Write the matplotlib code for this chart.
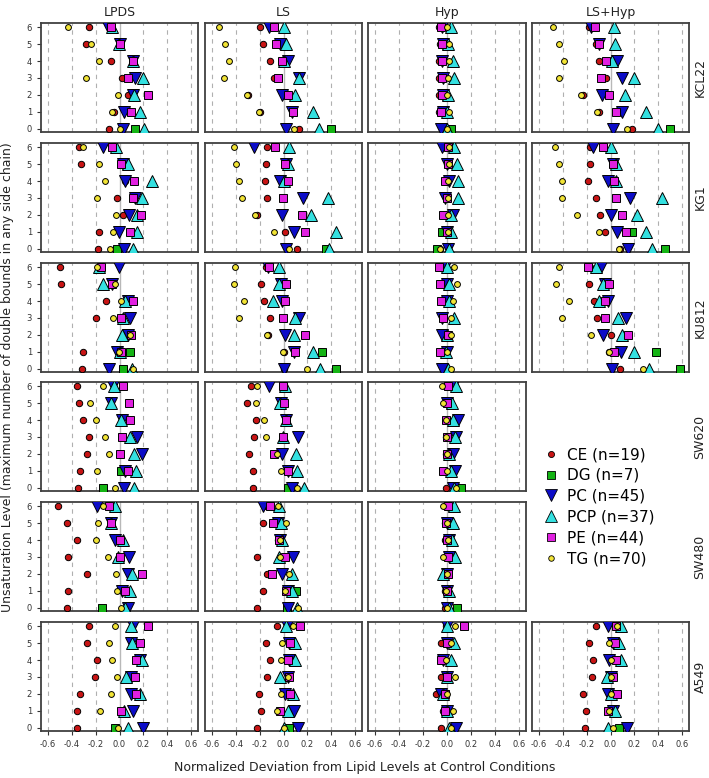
import numpy as np
import matplotlib
matplotlib.use("Agg")
import matplotlib.pyplot as plt
from matplotlib.lines import Line2D

nan = np.nan

conditions = ["LPDS", "LS", "Hyp", "LS+Hyp"]
cell_lines = ["KCL22", "KG1", "KU812", "SW620", "SW480", "A549"]
classes = ["CE", "DG", "PC", "PCP", "PE", "TG"]
class_n = [19, 7, 45, 37, 44, 70]
levels = [0, 1, 2, 3, 4, 5, 6]
x_ticks = [-0.6, -0.4, -0.2, 0.0, 0.2, 0.4, 0.6]

# values per class: one list per condition (LPDS, LS, Hyp, LS+Hyp), levels 0..6
KCL22 = {
    "CE": [[-0.09, -0.05, 0.07, 0.02, -0.07, -0.28, -0.26],
           [0.13, -0.2, -0.3, -0.08, -0.11, -0.17, -0.2],
           [-0.04, -0.07, -0.07, -0.07, -0.065, -0.06, -0.07],
           [0.18, -0.1, -0.23, -0.04, -0.1, -0.12, -0.18]],
    "DG": [[0.13, nan, nan, nan, nan, nan, nan],
           [0.4, nan, nan, nan, nan, nan, nan],
           [0.03, nan, nan, nan, nan, nan, nan],
           [0.5, nan, nan, nan, nan, nan, nan]],
    "PC": [[0.03, 0.035, 0.11, 0.13, 0.11, 0.0, -0.1],
           [0.02, 0.07, -0.01, 0.13, 0.04, -0.03, -0.12],
           [-0.05, -0.03, -0.03, -0.03, -0.04, -0.03, -0.04],
           [0.025, 0.1, -0.07, 0.1, 0.055, -0.1, -0.165]],
    "PCP": [[0.21, 0.17, 0.12, 0.2, 0.11, -0.005, -0.06],
            [0.3, 0.25, 0.1, 0.13, 0.0, 0.02, 0.0],
            [0.0, 0.0, 0.01, 0.055, 0.05, 0.01, 0.03],
            [0.4, 0.3, 0.12, 0.2, 0.015, 0.04, 0.03]],
    "PE": [[nan, 0.1, 0.24, 0.07, 0.11, 0.0, -0.07],
           [nan, 0.08, 0.035, -0.05, -0.01, -0.06, -0.08],
           [nan, -0.05, -0.045, -0.04, -0.04, -0.045, -0.05],
           [nan, 0.05, -0.01, -0.08, -0.04, -0.1, -0.13]],
    "TG": [[0.005, -0.065, -0.01, -0.28, -0.17, -0.24, -0.43],
           [0.085, -0.21, -0.31, -0.5, -0.46, -0.49, -0.54],
           [0.0, 0.02, 0.0, 0.01, 0.02, 0.02, 0.0],
           [0.14, -0.11, -0.25, -0.43, -0.39, -0.43, -0.48]],
}

KG1 = {
    "CE": [[-0.18, -0.175, 0.03, -0.02, 0.05, -0.32, -0.34],
           [0.11, 0.015, -0.22, -0.135, -0.155, -0.15, -0.135],
           [-0.06, -0.01, -0.01, -0.01, -0.01, 0.0, -0.02],
           [0.08, -0.045, -0.085, -0.12, -0.19, -0.17, -0.17]],
    "DG": [[-0.02, nan, nan, nan, nan, nan, nan],
           [0.36, nan, nan, nan, nan, nan, nan],
           [-0.085, -0.04, nan, nan, nan, nan, nan],
           [0.46, 0.18, nan, nan, nan, nan, nan]],
    "PC": [[0.04, -0.005, 0.08, 0.13, 0.05, 0.03, -0.135],
           [0.02, 0.09, -0.015, 0.165, -0.03, 0.02, -0.25],
           [0.01, 0.0, 0.05, -0.02, 0.02, 0.0, -0.045],
           [0.145, 0.055, 0.0, 0.16, -0.025, 0.02, -0.145]],
    "PCP": [[0.11, 0.15, 0.15, 0.19, 0.27, 0.07, -0.03],
            [0.38, 0.44, 0.23, 0.375, 0.005, 0.035, 0.05],
            [0.02, 0.035, 0.03, 0.09, 0.095, 0.085, 0.06],
            [0.35, 0.3, 0.225, 0.43, 0.045, 0.045, 0.0]],
    "PE": [[nan, 0.09, 0.18, 0.11, 0.12, 0.015, -0.065],
           [nan, 0.18, 0.155, -0.005, 0.04, 0.015, -0.07],
           [nan, 0.0, -0.03, 0.0, -0.02, 0.01, 0.01],
           [nan, 0.13, 0.095, 0.05, 0.03, 0.025, -0.06]],
    "TG": [[-0.08, -0.055, -0.03, -0.19, -0.12, -0.175, -0.31],
           [0.05, -0.08, -0.24, -0.35, -0.37, -0.4, -0.42],
           [-0.055, 0.005, 0.01, 0.01, 0.01, 0.02, 0.02],
           [0.075, -0.1, -0.28, -0.41, -0.41, -0.43, -0.47]],
}

KU812 = {
    "CE": [[-0.315, -0.31, 0.04, -0.2, -0.11, -0.495, -0.5],
           [0.0, 0.005, -0.13, -0.11, -0.16, -0.185, -0.15],
           [-0.01, -0.03, -0.02, -0.03, -0.03, -0.03, -0.02],
           [0.08, -0.01, 0.005, -0.11, -0.135, -0.18, -0.17]],
    "DG": [[0.03, 0.085, nan, nan, nan, nan, nan],
           [0.445, 0.325, nan, nan, nan, nan, nan],
           [nan, nan, nan, nan, nan, nan, nan],
           [0.585, 0.38, nan, nan, nan, nan, nan]],
    "PC": [[-0.085, -0.02, 0.07, 0.09, 0.075, -0.06, -0.005],
           [0.0, 0.09, 0.015, 0.13, -0.015, -0.02, -0.13],
           [-0.04, 0.0, -0.045, -0.045, 0.0, 0.0, -0.02],
           [0.01, 0.09, -0.065, 0.13, -0.02, -0.05, -0.08]],
    "PCP": [[0.105, 0.0, 0.02, 0.03, 0.05, -0.14, -0.17],
            [0.305, 0.25, 0.085, 0.1, -0.085, -0.04, -0.04],
            [0.01, -0.01, 0.0, 0.06, 0.02, 0.02, 0.0],
            [0.32, 0.195, 0.1, 0.065, -0.1, -0.06, -0.12]],
    "PE": [[nan, 0.015, 0.1, 0.015, 0.11, -0.06, -0.155],
           [nan, 0.1, 0.18, -0.005, 0.015, 0.02, -0.12],
           [nan, -0.055, 0.01, -0.03, -0.05, -0.055, -0.07],
           [nan, 0.03, 0.145, -0.045, -0.045, -0.01, -0.185]],
    "TG": [[0.11, -0.005, 0.085, -0.055, 0.015, -0.035, -0.19],
           [0.2, -0.005, -0.14, -0.37, -0.33, -0.42, -0.41],
           [0.03, 0.0, 0.035, 0.03, 0.05, 0.085, 0.06],
           [0.27, -0.01, -0.165, -0.405, -0.35, -0.46, -0.43]],
}

SW620 = {
    "CE": [[-0.35, -0.33, -0.275, -0.255, -0.305, -0.34, -0.355],
           [-0.255, -0.255, -0.29, -0.245, -0.23, -0.305, -0.27],
           [-0.01, -0.02, -0.01, -0.01, -0.01, -0.02, -0.02],
           None],
    "DG": [[-0.135, 0.015, nan, nan, nan, nan, nan],
           [0.04, nan, nan, nan, nan, nan, nan],
           [0.12, nan, nan, nan, nan, nan, nan],
           None],
    "PC": [[0.04, 0.05, 0.185, 0.15, 0.02, -0.07, -0.055],
           [0.07, 0.04, -0.015, 0.12, 0.02, -0.02, -0.12],
           [0.05, 0.065, 0.05, 0.075, 0.09, 0.0, 0.05],
           None],
    "PCP": [[0.12, 0.14, 0.125, 0.085, 0.015, -0.07, -0.05],
            [0.17, 0.11, 0.105, -0.005, 0.02, -0.03, 0.015],
            [0.055, 0.03, 0.02, 0.07, 0.05, 0.04, 0.075],
            None],
    "PE": [[nan, 0.07, 0.005, 0.02, 0.09, 0.08, 0.03],
           [nan, 0.035, -0.08, -0.005, 0.02, 0.005, -0.005],
           [nan, -0.035, 0.0, 0.0, -0.01, 0.0, 0.01],
           None],
    "TG": [[-0.035, -0.185, -0.085, -0.12, -0.2, -0.245, -0.135],
           [0.11, -0.02, -0.055, -0.15, -0.165, -0.23, -0.225],
           [0.075, 0.0, 0.0, -0.01, -0.01, -0.035, -0.04],
           None],
}

SW480 = {
    "CE": [[-0.445, -0.43, -0.27, -0.43, -0.36, -0.445, -0.52],
           [-0.225, -0.175, -0.14, -0.22, -0.05, -0.17, -0.15],
           [-0.02, -0.02, -0.02, -0.02, -0.02, -0.02, -0.02],
           None],
    "DG": [[-0.145, nan, nan, nan, nan, nan, nan],
           [0.03, 0.105, nan, nan, nan, nan, nan],
           [0.085, nan, nan, nan, nan, nan, nan],
           None],
    "PC": [[0.07, 0.02, 0.07, 0.08, -0.04, -0.07, -0.185],
           [0.04, 0.04, -0.015, 0.08, -0.03, -0.05, -0.175],
           [0.0, 0.0, 0.0, 0.02, 0.02, 0.0, 0.02],
           None],
    "PCP": [[0.05, 0.085, 0.105, -0.015, 0.03, -0.07, -0.04],
            [0.11, 0.07, 0.07, -0.035, -0.015, -0.02, -0.04],
            [0.02, 0.02, -0.03, 0.07, 0.04, 0.05, 0.06],
            None],
    "PE": [[nan, 0.05, 0.19, 0.005, 0.005, -0.07, -0.085],
           [nan, 0.02, -0.095, 0.015, -0.035, -0.09, -0.11],
           [nan, 0.0, 0.01, 0.01, 0.0, -0.01, 0.01],
           None],
    "TG": [[0.015, -0.02, -0.03, -0.1, -0.2, -0.18, -0.135],
           [0.125, 0.01, 0.05, -0.03, -0.03, 0.02, -0.05],
           [0.0, -0.01, 0.0, -0.03, 0.01, 0.0, -0.03],
           None],
}

A549 = {
    "CE": [[-0.36, -0.36, -0.33, -0.21, -0.185, -0.27, -0.26],
           [-0.22, -0.185, -0.21, -0.14, -0.11, -0.15, -0.055],
           [-0.05, -0.035, -0.095, -0.05, -0.04, -0.05, -0.01],
           [-0.215, -0.21, -0.235, -0.155, -0.145, -0.18, -0.12]],
    "DG": [[-0.04, nan, nan, nan, nan, nan, nan],
           [0.05, nan, nan, nan, nan, nan, nan],
           [0.04, nan, nan, nan, nan, nan, nan],
           [0.075, nan, nan, nan, nan, nan, nan]],
    "PC": [[0.2, 0.115, 0.1, 0.1, 0.17, 0.1, 0.115],
           [0.125, 0.085, 0.015, 0.04, 0.05, 0.05, 0.03],
           [0.075, 0.0, -0.05, 0.0, -0.03, 0.0, 0.0],
           [0.14, 0.02, -0.02, 0.0, -0.01, 0.02, -0.025]],
    "PCP": [[0.07, 0.04, 0.17, 0.055, 0.185, 0.105, 0.095],
            [0.0, 0.04, 0.08, -0.03, 0.1, 0.1, 0.02],
            [0.02, 0.0, -0.03, 0.0, 0.03, 0.055, 0.0],
            [-0.025, 0.04, 0.0, -0.03, 0.09, 0.075, 0.09]],
    "PE": [[nan, 0.015, 0.14, 0.13, 0.14, 0.17, 0.24],
           [nan, -0.03, 0.055, 0.05, 0.035, 0.055, 0.14],
           [nan, -0.015, -0.02, 0.0, -0.05, 0.0, 0.145],
           [nan, -0.025, 0.055, 0.025, 0.045, 0.04, 0.045]],
    "TG": [[-0.015, -0.165, -0.075, -0.02, -0.06, -0.085, -0.035],
           [0.0, -0.055, -0.025, 0.035, -0.02, -0.015, 0.08],
           [0.03, 0.05, 0.0, 0.07, -0.01, 0.035, 0.07],
           [0.025, -0.01, 0.0, 0.0, 0.005, -0.015, 0.055]],
}

data = [KCL22, KG1, KU812, SW620, SW480, A549]

style = {
    "CE": dict(marker="o", color="#c81414", ms=4.6),
    "DG": dict(marker="s", color="#14b414", ms=6.0),
    "PC": dict(marker="v", color="#0c0cc8", ms=8.6),
    "PCP": dict(marker="^", color="#34e0e0", ms=8.6),
    "PE": dict(marker="s", color="#e020e0", ms=6.4),
    "TG": dict(marker="o", color="#f2e435", ms=4.2),
}

W, H = 709, 778
fig = plt.figure(figsize=(W / 100, H / 100), dpi=100)

col_px = [(41, 198), (205, 362), (368, 526), (532, 689)]
row_top = [23, 143, 263, 382, 502, 622]
row_h = 109

for r, line in enumerate(cell_lines):
    for c, cond in enumerate(conditions):
        if data[r]["CE"][c] is None:
            continue
        x0, x1 = col_px[c]
        ax = fig.add_axes([x0 / W, 1 - (row_top[r] + row_h) / H, (x1 - x0) / W, row_h / H])
        for xv in x_ticks:
            if xv == 0:
                ax.axvline(0, color="#b8b8b8", lw=1.0, zorder=1)
            else:
                ax.axvline(xv, color="#b0b0b0", lw=0.8, ls=(0, (4, 4)), zorder=1)
        for k, cls in enumerate(classes):
            st = style[cls]
            ax.plot(data[r][cls][c], levels, ls="none", marker=st["marker"],
                    mfc=st["color"], mec="black", mew=0.7, ms=st["ms"], zorder=3 + k)
        ax.set_xlim(-0.66, 0.66)
        ax.set_ylim(-0.2, 6.25)
        for sp in ax.spines.values():
            sp.set_color("#404040")
            sp.set_linewidth(1.3)
        ax.tick_params(labelsize=6, colors="#333333", length=3, width=0.8)
        if c == 0:
            ax.set_yticks(levels)
        else:
            ax.set_yticks([])
        if r == len(cell_lines) - 1:
            ax.set_xticks(x_ticks)
            ax.set_xticklabels(["%.1f" % v for v in x_ticks])
        else:
            ax.set_xticks([])
        if r == 0:
            ax.set_title(cond, fontsize=9, pad=5, color="#222222")

# row labels on the right
for r, line in enumerate(cell_lines):
    yc = 1 - (row_top[r] + row_h / 2) / H
    fig.text(700 / W, yc, line, rotation=90, ha="center", va="center", fontsize=9, color="#222222")

fig.text(8 / W, 1 - 377 / H,
         "Unsaturation Level (maximum number of double bounds in any side chain)",
         rotation=90, ha="center", va="center", fontsize=9, color="#222222")
fig.text(365 / W, 1 - 768 / H,
         "Normalized Deviation from Lipid Levels at Control Conditions",
         ha="center", va="center", fontsize=9, color="#222222")

handles = []
for cls in classes:
    st = style[cls]
    handles.append(Line2D([], [], ls="none", marker=st["marker"], mfc=st["color"],
                          mec="black", mew=0.6, ms=st["ms"] * 0.95))
labels = ["%s (n=%d)" % (cls, n) for cls, n in zip(classes, class_n)]
fig.legend(handles, labels, loc="upper left", bbox_to_anchor=(536 / W, 1 - 441 / H),
           frameon=False, fontsize=11, labelspacing=0.38, handletextpad=0.4,
           borderaxespad=0, handlelength=1.2)

fig.savefig("out.png", dpi=100)
